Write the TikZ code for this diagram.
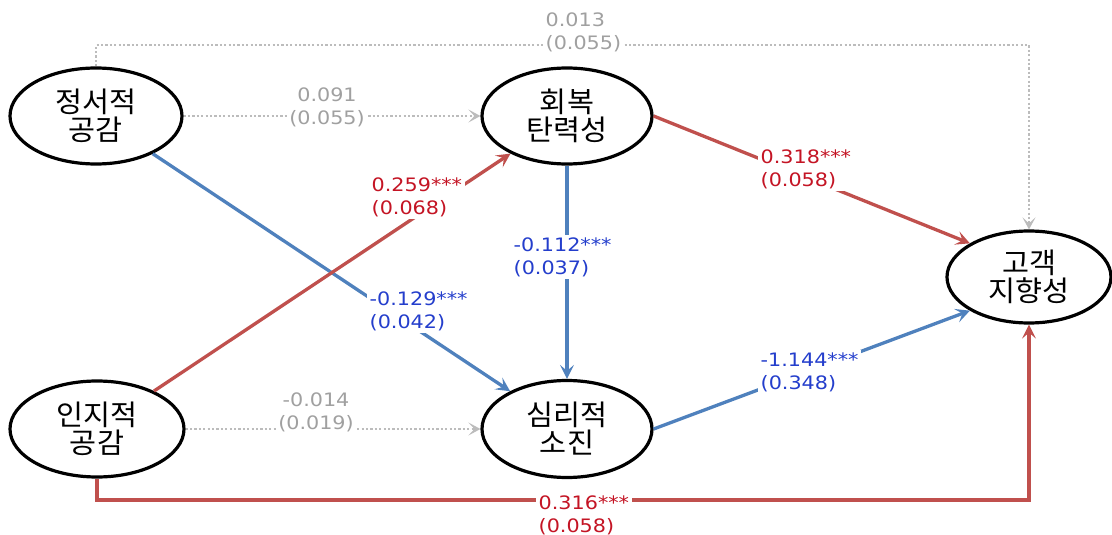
\documentclass[tikz,border=0pt]{standalone}
\usepackage{fontspec}
\newfontfamily\krfont{Noto Sans CJK KR}[FakeStretch=1.03]
\newfontfamily\numfont{DejaVu Sans}[FakeStretch=1.12]
\usetikzlibrary{arrows.meta,shapes.geometric}
\definecolor{redline}{RGB}{192,80,77}
\definecolor{redtext}{RGB}{196,20,36}
\definecolor{blueline}{RGB}{79,129,189}
\definecolor{bluetext}{RGB}{36,62,204}
\definecolor{grayline}{RGB}{188,188,188}
\definecolor{graytext}{RGB}{160,160,160}

\begin{document}
\begin{tikzpicture}[x=1pt,y=-1pt,
  construct/.style={ellipse, draw=black, line width=3.2pt, fill=white, inner sep=0pt,
    align=center, font=\krfont\fontsize{28.5}{28}\selectfont},
  tip/.style={-{Stealth[length=14pt,width=14pt,inset=6pt]}},
  pathred/.style={draw=redline, line width=3.3pt, tip},
  pathblue/.style={draw=blueline, line width=3.3pt, tip},
  pathgray/.style={draw=grayline, line width=2.6pt, dash pattern=on 2.2pt off 2.2pt,
    -{Stealth[length=12pt,width=13pt,inset=6pt]}},
  coef/.style={fill=white, inner sep=2.5pt, font=\numfont\fontsize{18.5}{23}\selectfont},
  coefred/.style={coef, text=redtext, align=left, anchor=west},
  coefblue/.style={coef, text=bluetext, align=left, anchor=west},
  coefgray/.style={coef, text=graytext, align=center},
]
\fill[white] (0,0) rectangle (1112,535);
\useasboundingbox (0,0) rectangle (1112,535);

% latent constructs
\node[construct, minimum width=172pt, minimum height=96pt] (jeong) at (96,116) {정서적\\공감};
\node[construct, minimum width=170pt, minimum height=96pt] (hoe) at (567,116) {회복\\탄력성};
\node[construct, minimum width=174pt, minimum height=96pt] (inji) at (97,429) {인지적\\공감};
\node[construct, minimum width=170pt, minimum height=97pt] (simri) at (567,429) {심리적\\소진};
\node[construct, minimum width=164pt, minimum height=92pt] (goek) at (1029,277) {고객\\지향성};

% routing levels of the two outer paths
\coordinate (topbar) at (0,45);
\coordinate (botbar) at (0,500);

% non-significant paths
\draw[pathgray] (jeong.north) -- (jeong.north |- topbar) -| (goek.north);
\draw[pathgray] (jeong) -- (hoe);
\draw[pathgray] (inji) -- (simri);

% significant paths
\draw[pathblue] (jeong) -- (simri);
\draw[pathred] (inji) -- (hoe);
\draw[pathblue] (hoe) -- (simri);
\draw[pathred] (hoe.east) -- (goek.north west);
\draw[pathblue] (simri.east) -- (goek.south west);
\draw[pathred] (inji.south) -- (inji.south |- botbar) -| (goek.south);

% path coefficients (standard errors)
\node[coef, text=graytext, align=left, anchor=west] (c013) at (543,32) {0.013\\(0.055)};
\node[coefgray] (c091) at (327,107) {0.091\\(0.055)};
\node[coefgray] (c014) at (316,412) {-0.014\\(0.019)};
\node[coefred] (c259) at (369,197) {0.259***\\(0.068)};
\node[coefblue] (c112) at (511,257) {-0.112***\\(0.037)};
\node[coefblue] (c129) at (367,311) {-0.129***\\(0.042)};
\node[coefred] (c318) at (758,169) {0.318***\\(0.058)};
\node[coefblue] (c1144) at (758,372) {-1.144***\\(0.348)};
\node[coefred] (c316) at (536,515) {0.316***\\(0.058)};
\end{tikzpicture}
\end{document}
